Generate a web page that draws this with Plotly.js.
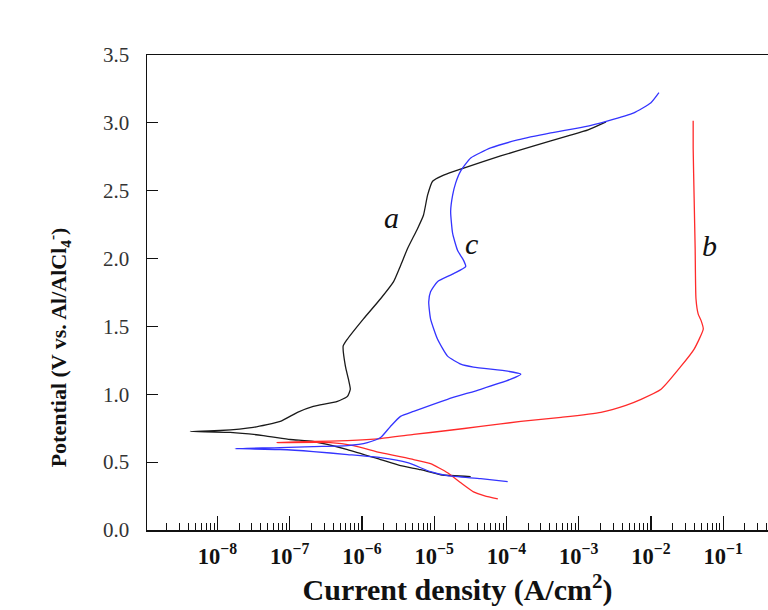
<!DOCTYPE html>
<html>
<head>
<meta charset="utf-8">
<script src="https://cdn.plot.ly/plotly-3.0.1.min.js"></script>
<style>html,body{margin:0;padding:0;background:#fff;overflow:hidden;}</style>
</head>
<body>
<div id="chart" style="width:768px;height:610px;"></div>
<script>
// Curve a (black)
const aCurrent = [3.2e-5, 1.23e-5, 6.5e-6, 3.42e-6, 1.81e-6, 6.3e-7, 2.12e-7, 1.02e-7, 4.3e-8, 1.5e-8, 4.2e-9,
  1.09e-8, 3.13e-8, 7.4e-8, 1.28e-7, 2.12e-7, 4.57e-7, 6.3e-7, 6.9e-7, 6.5e-7, 5.9e-7, 5.5e-7, 6.3e-7,
  1.05e-6, 1.81e-6, 2.74e-6, 3.42e-6, 4.28e-6, 5.9e-6, 7.1e-6, 8.1e-6, 9.5e-6, 1.35e-5, 2.56e-5, 8.3e-5,
  2.4e-4, 7.1e-4, 1.35e-3, 2.39e-3];
const aPotential = [0.393, 0.407, 0.444, 0.474, 0.519, 0.593, 0.652, 0.667, 0.696, 0.719, 0.726,
  0.733, 0.756, 0.800, 0.867, 0.911, 0.948, 0.985, 1.037, 1.111, 1.207, 1.356, 1.407,
  1.556, 1.704, 1.830, 1.948, 2.074, 2.222, 2.319, 2.467, 2.570, 2.615, 2.667, 2.756,
  2.830, 2.904, 2.948, 3.007];

// Curve b (red)
const bCurrent = [7.6e-5, 5.0e-5, 3.5e-5, 2.33e-5, 1.53e-5, 8.9e-6, 5.2e-6, 1.81e-6, 7.6e-7, 3.66e-7, 6.7e-8,
  2.12e-7, 6.3e-7, 1.81e-6, 5.2e-6, 1.53e-5, 4.4e-5, 1.58e-4, 5.7e-4, 2.03e-3, 4.5e-3, 7.3e-3,
  1.38e-2, 2.61e-2, 3.96e-2, 5.3e-2, 4.96e-2, 4.5e-2, 4.2e-2, 4.09e-2, 3.96e-2, 3.84e-2, 3.84e-2];
const bPotential = [0.230, 0.252, 0.281, 0.348, 0.422, 0.489, 0.519, 0.570, 0.622, 0.644, 0.644,
  0.652, 0.659, 0.674, 0.704, 0.733, 0.763, 0.800, 0.830, 0.867, 0.919, 0.963,
  1.037, 1.207, 1.333, 1.481, 1.541, 1.593, 1.704, 2.074, 2.444, 2.815, 3.015];

// Curve c (blue)
const cCurrent = [1.04e-4, 4.4e-5, 1.53e-5, 8.9e-6, 4.28e-6, 1.81e-6, 6.3e-7, 2.12e-7, 7.4e-8, 1.76e-8,
  7.4e-8, 2.12e-7, 6.3e-7, 1.19e-6, 1.81e-6, 2.48e-6, 3.42e-6, 5.2e-6, 1.53e-5, 4.4e-5, 1.15e-4, 1.58e-4,
  1.04e-4, 3.5e-5, 2.33e-5, 1.53e-5, 1.11e-5, 8.9e-6, 8.4e-6, 8.9e-6, 1.11e-5, 1.86e-5, 2.73e-5, 2.56e-5,
  2.11e-5, 1.8e-5, 1.69e-5, 1.8e-5, 1.98e-5, 2.32e-5, 3.2e-5, 6.05e-5, 1.43e-4, 4.1e-4, 1.18e-3,
  2.54e-3, 5.8e-3, 1.0e-2, 1.29e-2];
const cPotential = [0.356, 0.378, 0.400, 0.430, 0.496, 0.533, 0.556, 0.578, 0.593, 0.600,
  0.607, 0.615, 0.622, 0.644, 0.681, 0.763, 0.837, 0.874, 0.963, 1.037, 1.111, 1.148,
  1.170, 1.200, 1.222, 1.281, 1.407, 1.556, 1.681, 1.756, 1.830, 1.889, 1.941, 1.985,
  2.059, 2.185, 2.348, 2.467, 2.556, 2.644, 2.741, 2.815, 2.874, 2.926, 2.970,
  3.015, 3.074, 3.148, 3.222];

// Curve labels: text, current, potential
const labelText = ['a', 'c', 'b'];
const labelCurrent = [2.6e-6, 3.3e-5, 6.5e-2];
const labelPotential = [2.30, 2.11, 2.10];

const yTitle = '<b>Potential (V vs. Al/AlCl<sub>4</sub><sup>-</sup>)</b>';
const xTitle = '<b>Current density (A/cm<sup>2</sup>)</b>';

const font = 'Liberation Serif, Times New Roman, serif';
const lw = 1.3;
const ln = (c) => ({color: c, width: lw, shape: 'spline', smoothing: 0.5});
const traces = [
  {x: aCurrent, y: aPotential, mode: 'lines', line: ln('#1a1a1a')},
  {x: bCurrent, y: bPotential, mode: 'lines', line: ln('#ff2a2a')},
  {x: cCurrent, y: cPotential, mode: 'lines', line: ln('#3434ff')}
];

const annotations = labelText.map((t, i) => ({
  x: Math.log10(labelCurrent[i]), y: labelPotential[i], xref: 'x', yref: 'y',
  text: '<i>' + t + '</i>', showarrow: false,
  font: {family: font, size: 30, color: '#111'}
}));
annotations.push({
  xref: 'paper', yref: 'paper', x: -0.143, y: 0.385, xanchor: 'center', yanchor: 'middle',
  textangle: -90, text: yTitle, showarrow: false,
  font: {family: font, size: 22, color: '#111'}
});

const layout = {
  width: 768, height: 610,
  margin: {l: 147, r: 0, t: 55, b: 80},
  paper_bgcolor: '#fff', plot_bgcolor: '#fff',
  showlegend: false,
  font: {family: font, color: '#111'},
  xaxis: {
    type: 'log', range: [-8.975, -0.38],
    dtick: 1, exponentformat: 'power',
    showline: true, linecolor: '#111', linewidth: 1.5, mirror: true,
    showgrid: false, zeroline: false,
    ticks: 'inside', ticklen: 14, tickwidth: 1.2, tickcolor: '#111',
    minor: {dtick: 'D1', ticks: 'inside', ticklen: 7, tickwidth: 1, tickcolor: '#111', showgrid: false},
    tickfont: {family: font, size: 18, color: '#111', weight: 'bold'},
    ticklabelstandoff: 6,
    title: {text: xTitle, font: {family: font, size: 30, color: '#111'}, standoff: 4}
  },
  yaxis: {
    range: [0, 3.5], dtick: 0.5, tickformat: '.1f',
    showline: true, linecolor: '#111', linewidth: 1.5,
    showgrid: false, zeroline: false,
    ticks: 'inside', ticklen: 11, tickwidth: 1.2, tickcolor: '#111',
    tickfont: {family: font, size: 21, color: '#333'},
    ticklabelstandoff: 12
  },
  annotations: annotations
};

Plotly.newPlot('chart', traces, layout, {displayModeBar: false, staticPlot: true});
</script>
</body>
</html>
